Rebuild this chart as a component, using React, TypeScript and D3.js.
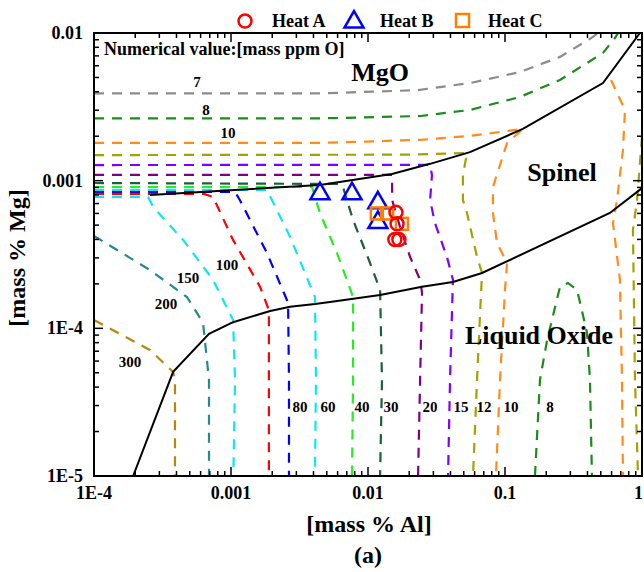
import React from 'react';
import * as d3 from 'd3';

type P = [number, number];

// ---- axis ticks ----
const X_MAJOR = [1e-4, 1e-3, 1e-2, 1e-1, 1];
const X_TICK_LABELS = ['1E-4', '0.001', '0.01', '0.1', '1'];
const Y_MAJOR = [1e-5, 1e-4, 1e-3, 1e-2];
const Y_TICK_LABELS = ['1E-5', '1E-4', '0.001', '0.01'];

// ---- iso-oxygen contours [mass % Al, mass % Mg] ----
const ppm7: P[] = [[1e-4, 0.0039], [0.0045, 0.0039], [0.0228, 0.0041], [0.0555, 0.00458], [0.1286, 0.00544], [0.252, 0.00689], [0.439, 0.0094], [0.477, 0.01]];
const ppm8a: P[] = [[1e-4, 0.00264], [0.00446, 0.00264], [0.024, 0.00274], [0.0555, 0.00301], [0.1286, 0.00369], [0.252, 0.00481], [0.519, 0.00732], [0.635, 0.00925], [0.668, 0.01]];
const ppm8b: P[] = [[0.1655, 1e-5], [0.18, 0.0000448], [0.203, 0.0000834], [0.252, 0.000191], [0.288, 0.000203], [0.336, 0.000182], [0.397, 0.0000931], [0.417, 0.0000448], [0.431, 1e-5]];
const ppm10a: P[] = [[1e-4, 0.0018], [0.00446, 0.0018], [0.024, 0.00189], [0.0555, 0.00201], [0.135, 0.00224], [0.1035, 0.0018], [0.0817, 0.000906], [0.0817, 0.000604], [0.0874, 0.000379], [0.1035, 0.000277], [0.1, 0.000182], [0.092, 0.0000448], [0.0859, 1e-5]];
const ppm10b: P[] = [[0.594, 0.00481], [0.751, 0.00301], [0.726, 0.00161], [0.657, 0.00074], [0.614, 0.000517], [0.69, 0.000213], [0.714, 0.0000448], [0.726, 1e-5]];
const ppm12a: P[] = [[1e-4, 0.00149], [0.02, 0.0015], [0.0528, 0.00154], [0.0493, 0.00109], [0.0493, 0.00074], [0.0528, 0.000604], [0.0625, 0.000304], [0.068, 0.000237], [0.0658, 0.000127], [0.0625, 0.0000448], [0.0584, 1e-5]];
const ppm12b: P[] = [[1.0, 0.00198], [0.92, 0.00074], [0.859, 0.000464], [0.889, 0.0000448], [0.935, 1e-5]];
const ppm15: P[] = [[1e-4, 0.001276], [0.0284, 0.00128], [0.0293, 0.00109], [0.0284, 0.00074], [0.0308, 0.000517], [0.0377, 0.000304], [0.0417, 0.000213], [0.041, 0.000127], [0.0397, 0.0000448], [0.0384, 1e-5]];
const ppm20: P[] = [[1e-4, 0.001093], [0.015, 0.001093], [0.015, 0.00074], [0.01714, 0.000486], [0.0203, 0.000304], [0.024, 0.000213], [0.0248, 0.000174], [0.024, 0.0000448], [0.0232, 1e-5]];
const ppm30: P[] = [[1e-4, 0.000964], [0.00625, 0.00095], [0.00657, 0.000906], [0.00778, 0.000542], [0.01035, 0.000277], [0.01225, 0.000182], [0.01265, 0.0000448], [0.01225, 1e-5]];
const ppm40: P[] = [[1e-4, 0.000906], [0.0039, 0.000906], [0.00446, 0.000604], [0.00528, 0.000416], [0.00594, 0.000324], [0.00778, 0.000163], [0.00778, 0.0000448], [0.00764, 1e-5]];
const ppm60: P[] = [[1e-4, 0.000865], [0.00183, 0.000865], [0.0027, 0.000416], [0.0041, 0.000163], [0.00417, 0.0000448], [0.0041, 1e-5]];
const ppm80: P[] = [[1e-4, 0.000838], [0.00107, 0.000838], [0.00116, 0.00074], [0.00183, 0.000324], [0.00261, 0.000149], [0.00265, 0.0000448], [0.00265, 1e-5]];
const ppm100: P[] = [[1e-4, 0.000813], [0.000635, 0.000813], [0.000739, 0.000776], [0.001035, 0.000397], [0.00163, 0.000191], [0.00189, 0.000133], [0.00189, 1e-5]];
const ppm150: P[] = [[1e-4, 0.000776], [0.000248, 0.000776], [0.00027, 0.000664], [0.000447, 0.000397], [0.000739, 0.000213], [0.001035, 0.000114], [0.00107, 0.0000448], [0.00104, 1e-5]];
const ppm200: P[] = [[1e-4, 0.000423], [0.000256, 0.000248], [0.000477, 0.000163], [0.000625, 0.000109], [0.000691, 0.0000448], [0.000691, 1e-5]];
const ppm300: P[] = [[1e-4, 0.000114], [0.000256, 0.0000714], [0.000378, 0.0000507], [0.00039, 0.0000448], [0.00039, 1e-5]];

// ---- phase boundaries ----
const mgoSpinel: P[] = [[0.000256, 0.0008], [0.00446, 0.000935], [0.01496, 0.00111], [0.0284, 0.0013], [0.0555, 0.00156], [0.135, 0.00224], [0.519, 0.00458], [0.966, 0.01]];
const spinelLiquid: P[] = [[0.000193, 1e-5], [0.000378, 0.0000507], [0.000691, 0.0000917], [0.001035, 0.00011], [0.00193, 0.000131], [0.0027, 0.00014], [0.0041, 0.000146], [0.00528, 0.000151], [0.01225, 0.000168], [0.0248, 0.000191], [0.0417, 0.000206], [0.068, 0.000237], [0.583, 0.000604], [1.0, 0.00089]];

// ---- measured heats ----
const heatA: P[] = [[0.016, 0.00061], [0.0163, 0.00051], [0.0157, 0.0004], [0.0168, 0.0004]];
const heatB: P[] = [[0.00446, 0.00083], [0.00764, 0.00083], [0.0118, 0.00072], [0.0118, 0.00053]];
const heatC: P[] = [[0.0116, 0.0006], [0.0138, 0.0006], [0.0177, 0.00051]];

// ---- contour labels ----
const labelText = ['7', '8', '10', '100', '150', '200', '300', '80', '60', '40', '30', '20', '15', '12', '10', '8'];
const labelAl = [0.000565, 0.000658, 0.000951, 0.000935, 0.000485, 0.000336, 0.000183, 0.00319, 0.0051, 0.00904, 0.01472, 0.0284, 0.0478, 0.0703, 0.1107, 0.213];
const labelMg = [0.00466, 0.00301, 0.0021, 0.000268, 0.000219, 0.000146, 0.0000591, 0.0000294, 0.0000294, 0.0000294, 0.0000294, 0.0000294, 0.0000294, 0.0000294, 0.0000294, 0.0000294];

const regionText = ['MgO', 'Spinel', 'Liquid Oxide'];
const regionAl = [0.01225, 0.2606, 0.177];
const regionMg = [0.00544, 0.001146, 0.0000902];

const COLORS: Record<string, string> = {
  '7': '#8c8c8c', '8': '#1a8c1a', '10': '#ff8c1a', '12': '#a3a300', '15': '#8000ff', '20': '#800080',
  '30': '#1d5e3e', '40': '#22ee22', '60': '#10e6f0', '80': '#0000ff', '100': '#ff0000', '150': '#10e6f0',
  '200': '#268a8a', '300': '#b8860b',
};

const contours: { ppm: string; pts: P[] }[] = [
  { ppm: '7', pts: ppm7 }, { ppm: '8', pts: ppm8a }, { ppm: '8', pts: ppm8b },
  { ppm: '10', pts: ppm10a }, { ppm: '10', pts: ppm10b }, { ppm: '12', pts: ppm12a }, { ppm: '12', pts: ppm12b },
  { ppm: '15', pts: ppm15 }, { ppm: '20', pts: ppm20 }, { ppm: '30', pts: ppm30 }, { ppm: '40', pts: ppm40 },
  { ppm: '60', pts: ppm60 }, { ppm: '80', pts: ppm80 }, { ppm: '100', pts: ppm100 }, { ppm: '150', pts: ppm150 },
  { ppm: '200', pts: ppm200 }, { ppm: '300', pts: ppm300 },
];

const FONT = '"Liberation Serif", "Times New Roman", serif';

export default function App() {
  const W = 644, H = 572;
  const L = 94, R = 642, T = 33, B = 476;
  const x = d3.scaleLog().domain([1e-4, 1]).range([L, R]);
  const y = d3.scaleLog().domain([1e-5, 1e-2]).range([B, T]);
  const line = d3.line<P>().x(d => x(d[0])).y(d => y(d[1]));
  const isMajor = (v: number) => Math.abs(Math.log10(v) - Math.round(Math.log10(v))) < 1e-6;
  const xt = x.ticks();
  const yt = y.ticks();

  const tri = (cx: number, cy: number, s: number) => {
    const h = s * 0.87;
    return `M${cx},${cy - h * 0.6}L${cx + s / 2},${cy + h * 0.4}L${cx - s / 2},${cy + h * 0.4}Z`;
  };

  return (
    <svg width={W} height={H} style={{ position: 'absolute', left: 0, top: 0, background: '#fff' }} fontFamily={FONT} fontWeight="bold">
      <defs>
        <clipPath id="plot"><rect x={L} y={T} width={R - L} height={B - T} /></clipPath>
      </defs>
      <g clipPath="url(#plot)">
        {contours.map((c, i) => (
          <path key={i} d={line(c.pts) || ''} fill="none" stroke={COLORS[c.ppm]} strokeWidth={2.2} strokeDasharray="10 8" />
        ))}
        <path d={line(mgoSpinel) || ''} fill="none" stroke="#000" strokeWidth={2} />
        <path d={line(spinelLiquid) || ''} fill="none" stroke="#000" strokeWidth={2} />
      </g>
      {/* markers */}
      {heatB.map((d, i) => (
        <path key={'b' + i} d={tri(x(d[0]), y(d[1]), 19)} fill="none" stroke="#0000ff" strokeWidth={2.5} />
      ))}
      {heatC.map((d, i) => (
        <rect key={'c' + i} x={x(d[0]) - 6} y={y(d[1]) - 6} width={12} height={12} fill="none" stroke="#ff8000" strokeWidth={2.5} />
      ))}
      {heatA.map((d, i) => (
        <circle key={'a' + i} cx={x(d[0])} cy={y(d[1])} r={6.5} fill="none" stroke="#ff0000" strokeWidth={2.5} />
      ))}
      {/* frame */}
      <rect x={L} y={T} width={R - L} height={B - T} fill="none" stroke="#000" strokeWidth={2} />
      {xt.map((v, i) => {
        const len = isMajor(v) ? 9 : 5;
        return (
          <g key={'xt' + i}>
            <line x1={x(v)} x2={x(v)} y1={B} y2={B - len} stroke="#000" strokeWidth={1.5} />
            <line x1={x(v)} x2={x(v)} y1={T} y2={T + len} stroke="#000" strokeWidth={1.5} />
          </g>
        );
      })}
      {yt.map((v, i) => {
        const len = isMajor(v) ? 9 : 5;
        return (
          <g key={'yt' + i}>
            <line x1={L} x2={L + len} y1={y(v)} y2={y(v)} stroke="#000" strokeWidth={1.5} />
            <line x1={R} x2={R - len} y1={y(v)} y2={y(v)} stroke="#000" strokeWidth={1.5} />
          </g>
        );
      })}
      {X_MAJOR.map((v, i) => {
        const last = i === X_MAJOR.length - 1;
        return (
          <text key={'xl' + i} x={last ? W - 1 : x(v)} y={499} textAnchor={last ? 'end' : 'middle'} fontSize={18}>{X_TICK_LABELS[i]}</text>
        );
      })}
      {Y_MAJOR.map((v, i) => (
        <text key={'yl' + i} x={L - 11} y={y(v) + 6} textAnchor="end" fontSize={18}>{Y_TICK_LABELS[i]}</text>
      ))}
      {/* axis titles */}
      <text x={369} y={532} textAnchor="middle" fontSize={24}>[mass % Al]</text>
      <text transform="translate(25,258) rotate(-90)" textAnchor="middle" fontSize={24}>[mass % Mg]</text>
      <text x={368} y={563} textAnchor="middle" fontSize={24}>(a)</text>
      {/* annotations */}
      <text x={104} y={55} fontSize={18}>Numerical value:[mass ppm O]</text>
      {regionText.map((t, i) => (
        <text key={'r' + i} x={x(regionAl[i])} y={y(regionMg[i])} dy="0.35em" textAnchor="middle" fontSize={26}>{t}</text>
      ))}
      {labelText.map((t, i) => (
        <text key={'l' + i} x={x(labelAl[i])} y={y(labelMg[i])} dy="0.35em" textAnchor="middle" fontSize={15}>{t}</text>
      ))}
      {/* legend */}
      <circle cx={245} cy={21} r={6.5} fill="none" stroke="#ff0000" strokeWidth={2.5} />
      <text x={272} y={27} fontSize={18}>Heat A</text>
      <path d={tri(354, 21, 19)} fill="none" stroke="#0000ff" strokeWidth={2.5} />
      <text x={380} y={27} fontSize={18}>Heat B</text>
      <rect x={456} y={14} width={13} height={13} fill="none" stroke="#ff8000" strokeWidth={2.5} />
      <text x={488} y={27} fontSize={18}>Heat C</text>
    </svg>
  );
}
